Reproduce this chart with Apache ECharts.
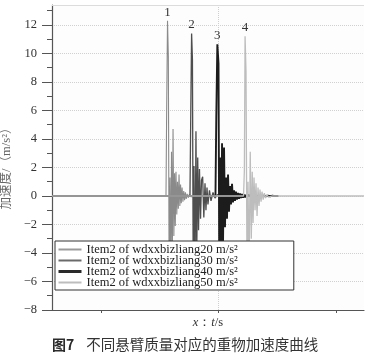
<!DOCTYPE html>
<html>
<head>
<meta charset="utf-8">
<script src="https://cdn.jsdelivr.net/npm/echarts@6/dist/echarts.min.js"></script>
<style>
html,body{margin:0;padding:0;background:#fff;}
#c{width:389px;height:358px;}
</style>
</head>
<body>
<div id="c"></div>
<script>
// ---- data (time in ms, acceleration in m/s^2) ----
var seriesNames = [
  'Item2 of wdxxbizliang20 m/s\u00b2',
  'Item2 of wdxxbizliang30 m/s\u00b2',
  'Item2 of wdxxbizliang40 m/s\u00b2',
  'Item2 of wdxxbizliang50 m/s\u00b2'
];
var peakLabels = ['1', '2', '3', '4'];

var t20 = [583, 1553, 1559, 1566, 1573, 1580, 1587, 1594, 1600, 1607, 1613, 1620, 1626, 1632, 1638, 1645, 1651, 1658, 1664, 1671, 1677, 1683, 1690, 1697, 1704, 1711, 1718, 1725, 1733, 1742, 1752, 1765, 1780, 2510];
var a20 = [0, 0, 6.3, 12.3, 9.8, -6.2, 1.3, -5.4, 3.1, -4.0, 4.7, -2.8, 1.6, -2.1, 1.7, -1.3, 1.0, -0.9, 1.5, -0.7, 0.8, -0.5, 0.6, -0.4, 0.35, -0.3, 0.25, -0.2, 0.15, -0.12, 0.1, -0.05, 0, 0];

var t30 = [583, 1757, 1764, 1771, 1778, 1785, 1791, 1800, 1808, 1815, 1823, 1830, 1838, 1847, 1855, 1865, 1875, 1885, 1893, 1902, 1910, 1923, 1936, 1953, 1970, 1990, 2010, 2510];
var a30 = [0, 0, 5.9, 11.4, 9.6, -6.3, 2.1, -5.8, 4.55, -3.8, 2.7, -2.4, 1.9, -1.6, 1.1, 1.35, -1.5, 0.9, -1.0, 0.6, -0.6, 0.4, -0.35, 0.25, -0.15, 0.1, 0, 0];

var t40 = [583, 1974, 1981, 1990, 2000, 2007, 2013, 2021, 2030, 2038, 2047, 2055, 2064, 2072, 2081, 2089, 2098, 2106, 2115, 2123, 2132, 2140, 2148, 2157, 2166, 2175, 2183, 2192, 2200, 2208, 2217, 2226, 2234, 2243, 2251, 2260, 2268, 2285, 2300, 2320, 2340, 2360, 2380, 2400, 2420, 2440, 2460, 2480, 2506];
var a40 = [0, 0, 5.5, 10.65, 9.3, -6.3, 2.7, -6.0, 3.7, -3.6, 3.4, -2.2, 1.3, -1.6, 1.5, -1.1, 0.7, -0.6, 0.85, -0.45, 0.4, -0.35, 0.3, -0.25, 0.22, -0.2, 0.18, -0.15, 0.14, -0.12, 0.1, -0.1, 0.08, -0.08, 0.07, -0.06, 0.05, -0.04, 0.04, -0.03, 0.03, -0.03, 0.02, -0.02, 0.02, -0.02, 0.02, -0.01, 0];

var t50 = [583, 2213, 2220, 2226, 2234, 2243, 2251, 2260, 2270, 2279, 2287, 2294, 2302, 2311, 2319, 2328, 2336, 2345, 2353, 2362, 2370, 2380, 2390, 2400, 2412, 2425, 2440, 2460, 3238];
var a50 = [0, 0, 1.8, 11.2, 8.7, -6.2, 1.0, -5.5, 3.1, -3.0, 1.7, -1.9, 1.3, -1.0, 0.9, -1.4, 0.6, -0.7, 0.45, -0.4, 0.3, -0.25, 0.2, -0.15, 0.1, -0.08, 0.05, 0, 0];

var yTicks = [-8, -6, -4, -2, 0, 2, 4, 6, 8, 10, 12];
var yMinorTicks = [-7, -5, -3, -1, 1, 3, 5, 7, 9, 11, 13];
var xTicks = [1000, 2000, 3000];
var yTop = 13.4;

// ---- build ----
var times = [t20, t30, t40, t50];
var vals = [a20, a30, a40, a50];
var colors = ['#8a8a8a', '#4e4e4e', '#1c1c1c', '#bdbdbd'];
var widths = [1.1, 1.3, 1.9, 1.3];
var legendColors = ['#9a9a9a', '#6a6a6a', '#2a2a2a', '#bdbdbd'];
var legendWidths = [2, 2, 3, 2];

function buildData(t, a, label) {
  var maxI = 0;
  for (var i = 1; i < a.length; i++) if (a[i] > a[maxI]) maxI = i;
  return t.map(function (x, i) {
    if (i === maxI) {
      return {
        value: [x, a[i]],
        symbol: 'circle', symbolSize: 1,
        itemStyle: {color: 'transparent', borderColor: 'transparent'},
        label: {
          show: true, position: 'top', distance: 1, formatter: label,
          fontFamily: 'Liberation Serif', fontSize: 13, color: '#333'
        }
      };
    }
    return [x, a[i]];
  });
}

var series = seriesNames.map(function (n, k) {
  var s = {
    name: n,
    type: 'line',
    yAxisIndex: 0,
    data: buildData(times[k], vals[k], peakLabels[k]),
    symbol: 'none',
    showSymbol: true,
    lineStyle: {color: colors[k], width: widths[k]},
    itemStyle: {color: colors[k]},
    emphasis: {disabled: true},
    animation: false,
    z: 2 + k
  };
  if (k === 0) {
    s.markLine = {
      silent: true, symbol: 'none', label: {show: false},
      data: [
        {xAxis: xTicks[1], lineStyle: {color: '#cfcfcf', type: 'dotted', width: 1}},
        {yAxis: yTop, lineStyle: {color: '#dcdcdc', type: 'solid', width: 1}}
      ],
      z: 1
    };
  }
  return s;
});

function fmtMinus(v) { return String(v).replace('-', '\u2212'); }

var chart = echarts.init(document.getElementById('c'), null, {renderer: 'canvas'});
chart.setOption({
  backgroundColor: '#fff',
  animation: false,
  title: {
    text: '{a|图7}{b|不同悬臂质量对应的重物加速度曲线}',
    left: 52, top: 337, padding: 0,
    textStyle: {
      rich: {
        a: {fontFamily: 'Noto Sans CJK SC', fontSize: 14, fontWeight: 'bold', color: '#2b2b2b', padding: [0, 12, 0, 0]},
        b: {fontFamily: 'Noto Sans CJK SC', fontSize: 14.5, fontWeight: 'normal', color: '#333'}
      }
    }
  },
  legend: {
    left: 55, top: 241,
    orient: 'vertical',
    selectedMode: false,
    itemWidth: 23, itemHeight: 8, itemGap: -2,
    padding: [2, 56, 1, 2],
    backgroundColor: '#fff',
    borderColor: '#333', borderWidth: 1,
    textStyle: {fontFamily: 'Liberation Serif', fontSize: 12.5, color: '#222'},
    data: seriesNames.map(function (n, k) {
      return {
        name: n,
        lineStyle: {color: legendColors[k], width: legendWidths[k]},
        itemStyle: {color: 'transparent', borderColor: 'transparent', borderWidth: 0}
      };
    }),
    z: 10
  },
  grid: {left: 52, right: 25, top: 5, bottom: 48, outerBoundsMode: 'none', containLabel: false,
         show: true, borderColor: 'transparent', backgroundColor: '#fdfdfd'},
  xAxis: {
    type: 'value', min: 583, max: 3238,
    name: '{i|x}：{i|t}/s',
    nameLocation: 'middle', nameGap: 6,
    nameTextStyle: {
      fontFamily: 'Liberation Serif', fontSize: 12.5, color: '#333',
      rich: {i: {fontFamily: 'Liberation Serif', fontStyle: 'italic', fontSize: 12.5, color: '#333'}}
    },
    axisLine: {show: true, onZero: false, lineStyle: {color: '#555', width: 1.2}},
    axisTick: {show: true, customValues: xTicks, length: 3, lineStyle: {color: '#555'}},
    axisLabel: {show: false},
    splitLine: {show: false}
  },
  yAxis: [{
    type: 'value', min: -8, max: yTop, interval: 2,
    name: '加速度/（m/s\u00b2）',
    nameLocation: 'middle', nameGap: 38, nameRotate: 90,
    nameTextStyle: {fontFamily: 'Liberation Serif, Noto Sans CJK SC', fontSize: 12.5, color: '#666', padding: [0, 16, 0, 0]},
    axisLine: {show: true, lineStyle: {color: '#555', width: 1.2}},
    axisTick: {show: true, customValues: yTicks, length: 10, lineStyle: {color: '#555'}},
    axisLabel: {customValues: yTicks, formatter: fmtMinus, margin: 15, fontFamily: 'Liberation Serif', fontSize: 12.5, color: '#333'},
    splitLine: {show: true, lineStyle: {color: '#d0d0d0', type: 'dotted'}}
  }, {
    type: 'value', min: -8, max: yTop, position: 'left',
    axisLine: {show: false},
    axisTick: {show: true, customValues: yMinorTicks, length: 5, lineStyle: {color: '#555'}},
    axisLabel: {show: false},
    splitLine: {show: false}
  }],
  series: series
});
</script>
</body>
</html>
